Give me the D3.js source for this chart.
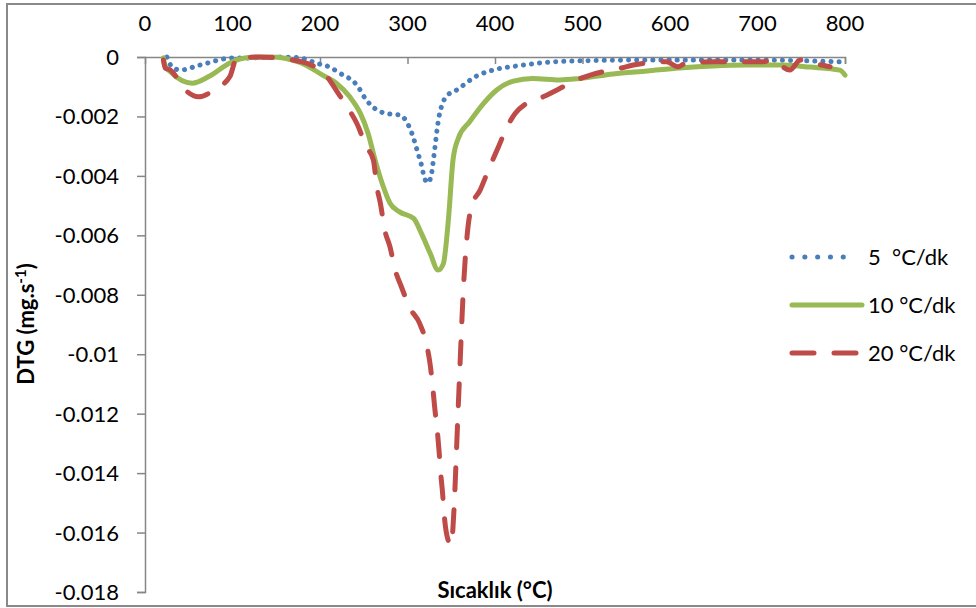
<!DOCTYPE html>
<html>
<head>
  <script src="https://d3js.org/d3.v7.min.js"></script>
</head>
<style>
body { margin: 0; background: #fff; }
text { font-family: Lato, "Open Sans", sans-serif; fill: #000; }
</style>
<body>
<script>
// temperature (°C) and DTG (x 0.001 mg/s)
var t5 = [25, 30, 40, 63, 101, 120, 154, 177, 196, 211, 223, 242, 253, 265, 280, 291, 299, 305, 312, 316, 319, 323, 327, 329, 331, 334, 336, 339, 345, 356, 379, 402, 425, 455, 497, 577, 691, 800];
var v5 = [0, -0.30, -0.44, -0.27, -0.03, -0.03, 0, -0.03, -0.21, -0.34, -0.55, -0.94, -1.45, -1.78, -1.92, -1.95, -2.18, -2.57, -3.24, -3.64, -4.03, -4.23, -4.01, -3.60, -3.13, -2.40, -2.01, -1.65, -1.31, -1.11, -0.64, -0.41, -0.30, -0.19, -0.13, -0.10, -0.10, -0.17];

var t10 = [21, 23, 29, 54, 74, 97, 114, 143, 177, 203, 219, 234, 246, 255, 263, 271, 280, 291, 307, 316, 326, 335, 341, 347, 352, 358, 371, 387, 402, 421, 443, 474, 497, 535, 574, 611, 649, 688, 726, 760, 794, 800];
var v10 = [-0.03, -0.30, -0.50, -0.88, -0.64, -0.20, -0.03, 0, -0.18, -0.61, -0.89, -1.34, -1.89, -2.57, -3.47, -4.25, -4.92, -5.21, -5.43, -5.94, -6.61, -7.17, -6.95, -5.38, -3.47, -2.74, -2.18, -1.56, -1.11, -0.81, -0.72, -0.77, -0.72, -0.57, -0.47, -0.37, -0.30, -0.27, -0.27, -0.34, -0.44, -0.61];

var t20 = [21, 23, 29, 46, 61, 82, 97, 105, 131, 169, 185, 208, 219, 232, 242, 253, 261, 265, 269, 274, 280, 286, 293, 303, 314, 322, 326, 329, 331, 334, 336, 338, 340, 342, 345, 350, 352, 354, 356, 358, 360, 362, 364, 368, 373, 383, 394, 404, 413, 423, 436, 455, 478, 489, 509, 524, 543, 558, 577, 596, 609, 619, 650, 680, 707, 716, 737, 749, 764, 783];
var v20 = [-0.10, -0.37, -0.44, -1.11, -1.34, -1.04, -0.66, -0.03, 0, -0.10, -0.21, -0.66, -1.14, -1.72, -2.23, -3.02, -3.47, -4.37, -4.92, -5.82, -6.39, -7.17, -7.73, -8.46, -8.97, -9.70, -10.37, -11.15, -11.77, -12.56, -13.23, -14.02, -14.64, -15.42, -16.09, -16.43, -15.81, -14.69, -13.23, -11.77, -10.37, -8.97, -7.73, -6.05, -5.04, -4.48, -3.69, -3.02, -2.40, -1.90, -1.56, -1.34, -1.00, -0.83, -0.61, -0.49, -0.38, -0.27, -0.19, -0.16, -0.33, -0.19, -0.16, -0.16, -0.16, -0.10, -0.44, -0.10, -0.21, -0.33];

var xTicks = [0, 100, 200, 300, 400, 500, 600, 700, 800];
var yTicks = [0, -0.002, -0.004, -0.006, -0.008, -0.01, -0.012, -0.014, -0.016, -0.018];
var seriesNames = ["5  °C/dk", "10 °C/dk", "20 °C/dk"];

var W = 976, H = 608;
var svg = d3.select("body").append("svg")
  .attr("width", W)
  .attr("height", H);

// outer chart border
svg.append("rect")
  .attr("x", 7).attr("y", 4)
  .attr("width", W + 10).attr("height", 602)
  .attr("fill", "none")
  .attr("stroke", "#898989")
  .attr("stroke-width", 2);

var x = d3.scaleLinear().domain([0, 800]).range([145, 845]);
var y = d3.scaleLinear().domain([0, -0.018]).range([57, 592]);

var axisColor = "#868686";

var xAxis = svg.append("g")
  .attr("transform", "translate(0,57)")
  .call(d3.axisBottom(x).tickValues(xTicks).tickSize(7).tickFormat(""));
var yAxis = svg.append("g")
  .attr("transform", "translate(145,0)")
  .call(d3.axisLeft(y).tickValues(yTicks).tickSize(8).tickFormat(""));

[xAxis, yAxis].forEach(function(g) {
  g.select(".domain").attr("stroke", axisColor).attr("stroke-width", 1.5);
  g.selectAll(".tick line").attr("stroke", axisColor).attr("stroke-width", 1.5);
});
// x tick at 0 sits on the y axis
xAxis.selectAll(".tick").filter(function(d) { return d === 0; }).select("line").remove();

// tick labels
svg.append("g").selectAll("text")
  .data(xTicks)
  .enter().append("text")
  .attr("x", function(d) { return x(d); })
  .attr("y", 31)
  .attr("text-anchor", "middle")
  .attr("font-size", 22)
  .text(function(d) { return d; });

svg.append("g").selectAll("text")
  .data(yTicks)
  .enter().append("text")
  .attr("x", 119)
  .attr("y", function(d) { return y(d) + 8; })
  .attr("text-anchor", "end")
  .attr("font-size", 22)
  .text(function(d) { return d === 0 ? "0" : String(d); });

// axis titles
var yt = svg.append("text")
  .attr("transform", "translate(34,324) rotate(-90)")
  .attr("text-anchor", "middle")
  .attr("font-size", 22)
  .attr("font-weight", "bold");
yt.append("tspan").text("DTG (mg.s");
yt.append("tspan").attr("dy", -8).attr("font-size", 15).text("-1");
yt.append("tspan").attr("dy", 8).text(")");

svg.append("text")
  .attr("x", 495)
  .attr("y", 598)
  .attr("text-anchor", "middle")
  .attr("font-size", 22)
  .attr("font-weight", "bold")
  .text("Sıcaklık (°C)");

// curves
var line = d3.line()
  .x(function(d) { return x(d[0]); })
  .y(function(d) { return y(d[1] / 1000); })
  .curve(d3.curveMonotoneX);

var series = [
  { t: t5, v: v5, color: "#4a7ebb", width: 5, dash: "0.1,8" },
  { t: t10, v: v10, color: "#98b954", width: 5, dash: null },
  { t: t20, v: v20, color: "#be4b48", width: 5, dash: "22,20" }
];

series.forEach(function(s) {
  var pts = d3.zip(s.t, s.v);
  svg.append("path")
    .datum(pts)
    .attr("d", line)
    .attr("fill", "none")
    .attr("stroke", s.color)
    .attr("stroke-width", s.width)
    .attr("stroke-linecap", "round")
    .attr("stroke-linejoin", "round")
    .attr("stroke-dasharray", s.dash);
});

// legend
var legDash = ["0.1,12.7", null, "22,20"];
var legEnd = [855.6, 862, 856];
var leg = svg.append("g").selectAll("g")
  .data(series)
  .enter().append("g")
  .attr("transform", function(d, i) { return "translate(0," + [257, 305, 353][i] + ")"; });

leg.append("line")
  .attr("x1", 792).attr("x2", function(d, i) { return legEnd[i]; })
  .attr("y1", 0).attr("y2", 0)
  .attr("stroke", function(d) { return d.color; })
  .attr("stroke-width", 5)
  .attr("stroke-linecap", "round")
  .attr("stroke-dasharray", function(d, i) { return legDash[i]; });

leg.append("text")
  .attr("x", 868)
  .attr("y", 8)
  .attr("font-size", 22)
  .style("white-space", "pre")
  .text(function(d, i) { return seriesNames[i]; });
</script>
</body>
</html>
